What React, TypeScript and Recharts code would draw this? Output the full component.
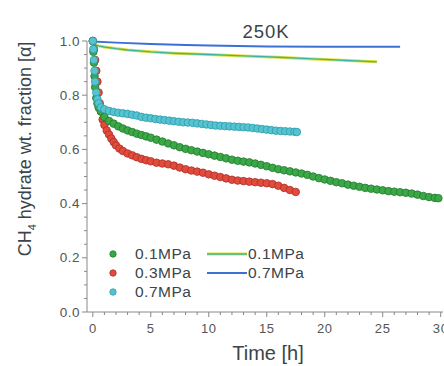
import {ComposedChart, Line, Scatter, XAxis, YAxis} from "recharts";

// scatter: 0.1 MPa (green)
const green01Time = [0, 0.05, 0.1, 0.15, 0.2, 0.3, 0.4, 0.5, 0.7, 1.0, 1.4, 1.8, 2.2, 2.6, 3.0, 3.4, 3.8, 4.2, 4.6, 5.0,
  5.5, 6.0, 6.5, 7.0, 7.5, 8.0, 8.5, 9.0, 9.5, 10.0, 10.5, 11.0, 11.5, 12.0, 12.5, 13.0, 13.5, 14.0, 14.5, 15.0,
  15.5, 16.0, 16.5, 17.0, 17.5, 18.0, 18.5, 19.0, 19.5, 20.0, 20.5, 21.0, 21.5, 22.0, 22.5, 23.0, 23.5, 24.0, 24.5,
  25.0, 25.5, 26.0, 26.5, 27.0, 27.5, 28.0, 28.5, 29.0, 29.5, 29.8];
const green01Value = [1.0, 0.96, 0.92, 0.87, 0.83, 0.79, 0.77, 0.755, 0.74, 0.72, 0.705, 0.695, 0.685, 0.677, 0.67, 0.664, 0.658, 0.653, 0.648, 0.643,
  0.636, 0.629, 0.622, 0.615, 0.608, 0.602, 0.597, 0.592, 0.587, 0.582, 0.577, 0.572, 0.567, 0.562, 0.558, 0.555, 0.552, 0.548, 0.543, 0.538,
  0.532, 0.527, 0.523, 0.519, 0.515, 0.511, 0.506, 0.5, 0.494, 0.489, 0.484, 0.479, 0.475, 0.47, 0.466, 0.462, 0.458, 0.455, 0.452,
  0.449, 0.446, 0.444, 0.442, 0.44, 0.437, 0.433, 0.428, 0.424, 0.421, 0.42];

// scatter: 0.3 MPa (red)
const red03Time = [0, 0.1, 0.2, 0.3, 0.4, 0.5, 0.6, 0.7, 0.85, 1.0, 1.2, 1.4, 1.6, 1.8, 2.0, 2.3, 2.6, 3.0, 3.4, 3.8, 4.2, 4.6, 5.0,
  5.5, 6.0, 6.5, 7.0, 7.5, 8.0, 8.5, 9.0, 9.5, 10.0, 10.5, 11.0, 11.5, 12.0, 12.5, 13.0, 13.5, 14.0, 14.5, 15.0, 15.5, 16.0, 16.5, 17.0, 17.5];
const red03Value = [1.0, 0.97, 0.93, 0.89, 0.85, 0.81, 0.77, 0.74, 0.71, 0.69, 0.67, 0.655, 0.64, 0.627, 0.615, 0.603, 0.594, 0.585, 0.578, 0.571, 0.565, 0.56, 0.556,
  0.551, 0.548, 0.545, 0.54, 0.533, 0.527, 0.522, 0.518, 0.514, 0.508, 0.503, 0.498, 0.493, 0.488, 0.485, 0.483, 0.481, 0.479, 0.477, 0.475, 0.472, 0.466, 0.458, 0.45, 0.443];

// scatter: 0.7 MPa (cyan)
const cyan07Time = [0, 0.05, 0.1, 0.15, 0.2, 0.3, 0.4, 0.5, 0.7, 1.0, 1.4, 1.8, 2.2, 2.6, 3.0, 3.4, 3.8, 4.2, 4.6, 5.0,
  5.4, 5.8, 6.2, 6.6, 7.0, 7.4, 7.8, 8.2, 8.6, 9.0, 9.4, 9.8, 10.2, 10.6, 11.0, 11.4, 11.8, 12.2, 12.6, 13.0,
  13.4, 13.8, 14.2, 14.6, 15.0, 15.4, 15.8, 16.2, 16.6, 17.0, 17.4, 17.6];
const cyan07Value = [1.0, 0.97, 0.93, 0.89, 0.85, 0.81, 0.785, 0.77, 0.755, 0.748, 0.742, 0.738, 0.735, 0.733, 0.731, 0.728, 0.725, 0.72, 0.717, 0.715,
  0.712, 0.71, 0.708, 0.706, 0.704, 0.702, 0.7, 0.699, 0.698, 0.696, 0.694, 0.692, 0.69, 0.688, 0.687, 0.686, 0.685, 0.684, 0.683, 0.682,
  0.681, 0.679, 0.677, 0.675, 0.673, 0.671, 0.669, 0.668, 0.667, 0.666, 0.665, 0.664];

// lines
const line01Time = [0, 0.5, 1, 2, 3, 5, 7, 10, 13, 16, 19, 22, 24.5];
const line01Value = [0.988, 0.982, 0.978, 0.972, 0.967, 0.96, 0.955, 0.95, 0.945, 0.94, 0.934, 0.928, 0.923];
const line07Time = [0, 2, 5, 8, 10, 15, 20, 23, 26.5];
const line07Value = [0.998, 0.994, 0.989, 0.985, 0.983, 0.98, 0.979, 0.979, 0.979];

const xTicks = Array.from({length: 31}, (_, i) => i);
const yTicks = Array.from({length: 21}, (_, i) => Math.round(i * 5) / 100);

const pairs = (t: number[], v: number[]) => t.map((x, i) => ({t: x, v: v[i]}));

const FONT = "'Liberation Sans', Arial, sans-serif";
const TEXT = "#3b4449";

const dot = (fill: string, stroke: string) => (props: any) => (
  <circle cx={props.cx} cy={props.cy} r={3.8} fill={fill} stroke={stroke} strokeWidth={0.8}/>
);

const XTick = (props: any) => {
  const {x, y, payload} = props;
  const major = payload.value % 5 === 0;
  return (
    <g>
      <line x1={x} x2={x} y1={y} y2={y + (major ? 5 : 3)} stroke="#888"/>
      {major && (
        <text x={x} y={y + 21} textAnchor="middle" fontSize={13} letterSpacing={0.6} fill="#555" fontFamily={FONT}>
          {payload.value}
        </text>
      )}
    </g>
  );
};

const YTick = (props: any) => {
  const {x, y, payload} = props;
  const v = Math.round(payload.value * 100);
  const major = v % 20 === 0;
  return (
    <g>
      <line x1={x} x2={x - (major ? 5 : 3)} y1={y} y2={y} stroke="#888"/>
      {major && (
        <text x={x - 7} y={y + 4.5} textAnchor="end" fontSize={13.5} letterSpacing={0.5} fill="#555" fontFamily={FONT}>
          {(v / 100).toFixed(1)}
        </text>
      )}
    </g>
  );
};

export default function App() {
  return (
    <div style={{position: "absolute", left: 0, top: 0, width: 444, height: 366, background: "#fff", overflow: "hidden"}}>
      <ComposedChart width={444} height={366} margin={{top: 41, right: 1, bottom: 0, left: 0}}>
        <XAxis type="number" dataKey="t" domain={[-0.5, 30.2]} ticks={xTicks} interval={0} tick={<XTick/>}
               tickLine={false} tickSize={0} tickMargin={0} height={54} stroke="#888" allowDataOverflow/>
        <YAxis type="number" dataKey="v" domain={[0, 1]} ticks={yTicks} interval={0} tick={<YTick/>}
               tickLine={false} tickSize={0} tickMargin={0} width={87} stroke="#888"/>
        <Scatter data={pairs(red03Time, red03Value)} dataKey="v" shape={dot("#e24a3b", "#a8302a")} isAnimationActive={false}/>
        <Scatter data={pairs(green01Time, green01Value)} dataKey="v" shape={dot("#3aa847", "#237a2c")} isAnimationActive={false}/>
        <Scatter data={pairs(cyan07Time, cyan07Value)} dataKey="v" shape={dot("#55c4d2", "#2f9aa8")} isAnimationActive={false}/>
        <Line data={pairs(line01Time, line01Value)} dataKey="v" stroke="#e3df3a" strokeWidth={3} dot={false} isAnimationActive={false}/>
        <Line data={pairs(line01Time, line01Value)} dataKey="v" stroke="#3cb6a0" strokeWidth={1.4} dot={false} isAnimationActive={false}/>
        <Line data={pairs(line07Time, line07Value)} dataKey="v" stroke="#3d6fd6" strokeWidth={2} dot={false} isAnimationActive={false}/>
      </ComposedChart>
      <svg width={444} height={366} style={{position: "absolute", left: 0, top: 0, pointerEvents: "none"}} fontFamily={FONT}>
        <text x={266} y={38} textAnchor="middle" fontSize={18.5} letterSpacing={1} fill={TEXT}>250K</text>
        <text x={268} y={360} textAnchor="middle" fontSize={20} fill={TEXT}>Time [h]</text>
        <text x={31} y={149} textAnchor="middle" fontSize={18} fill={TEXT} transform="rotate(-90, 31, 149)">
          CH<tspan fontSize={11} dy={5}>4</tspan><tspan dy={-5}> hydrate wt. fraction [α]</tspan>
        </text>
        <g fontSize={15.5} letterSpacing={0.5} fill={TEXT}>
          <circle cx={113} cy={254} r={3.2} fill="#3aa847" stroke="#237a2c" strokeWidth={0.8}/>
          <text x={135} y={259}>0.1MPa</text>
          <circle cx={113} cy={273} r={3.2} fill="#e24a3b" stroke="#a8302a" strokeWidth={0.8}/>
          <text x={135} y={278}>0.3MPa</text>
          <circle cx={113} cy={292} r={3.2} fill="#55c4d2" stroke="#2f9aa8" strokeWidth={0.8}/>
          <text x={135} y={297}>0.7MPa</text>
          <line x1={207} x2={247} y1={254} y2={254} stroke="#e3df3a" strokeWidth={3}/>
          <line x1={207} x2={247} y1={254} y2={254} stroke="#3cb6a0" strokeWidth={1.4}/>
          <text x={248} y={259}>0.1MPa</text>
          <line x1={207} x2={247} y1={273} y2={273} stroke="#3d6fd6" strokeWidth={2}/>
          <text x={248} y={278}>0.7MPa</text>
        </g>
      </svg>
    </div>
  );
}
